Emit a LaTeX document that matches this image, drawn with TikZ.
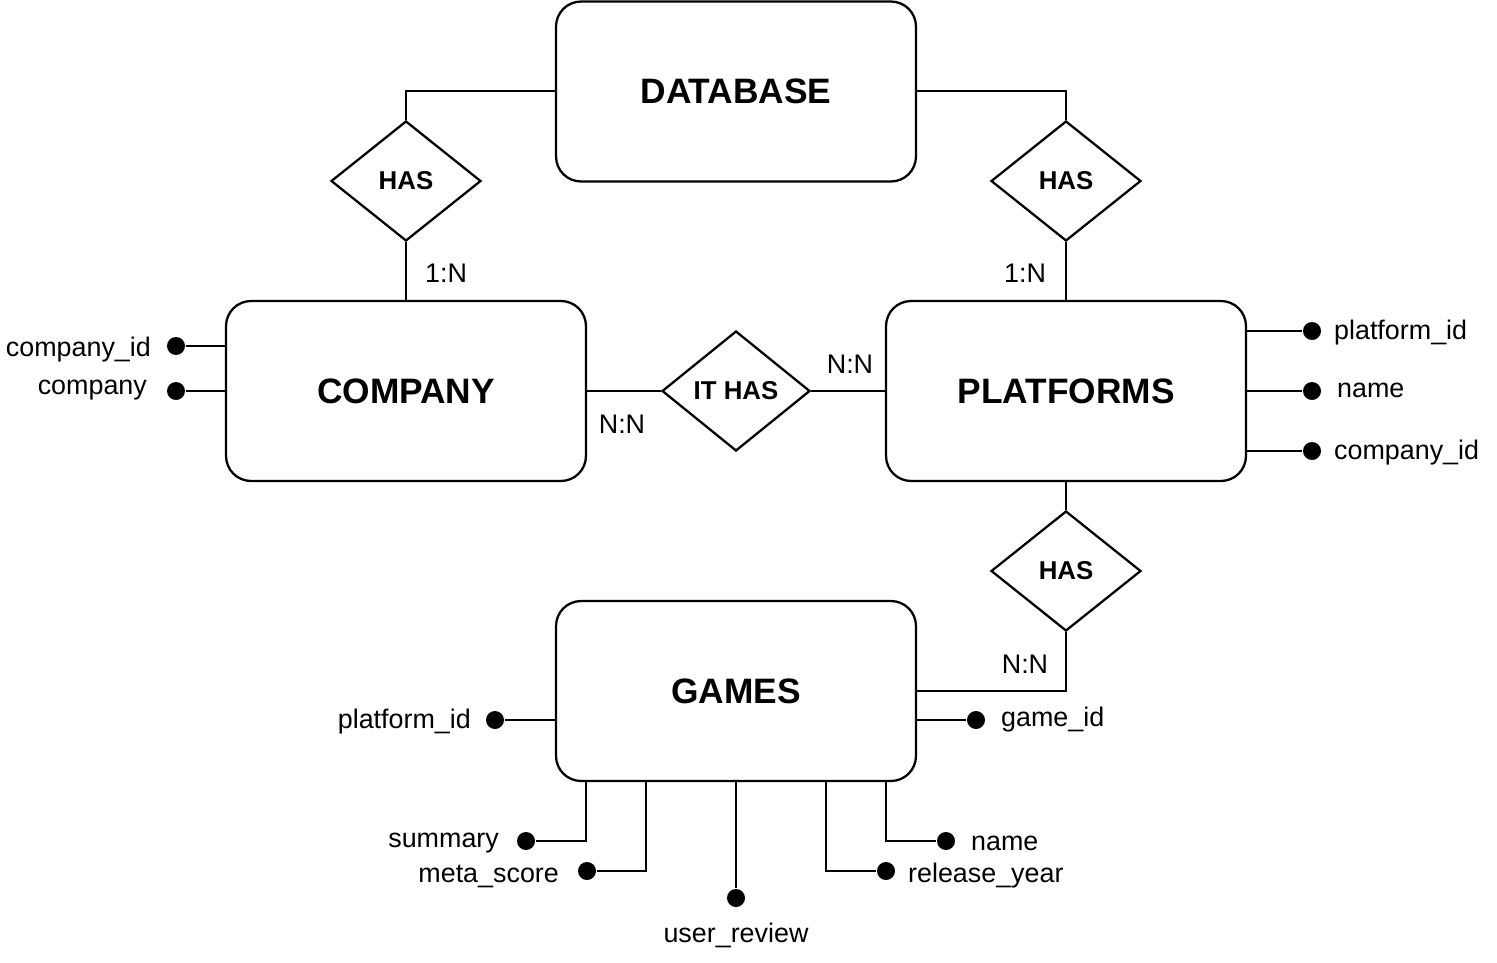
\documentclass[tikz,border=0pt]{standalone}
\usepackage{fontspec}
\setmainfont{Liberation Sans}
\usetikzlibrary{shapes.geometric}
\begin{document}
\begin{tikzpicture}[x=0.02cm,y=-0.02cm,
  line width=1.3pt,
  entity/.style={draw,rounded corners=0.5cm,minimum width=7.2cm,minimum height=3.6cm,inner sep=0pt,font=\fontsize{20.1}{22}\selectfont\bfseries},
  rel/.style={draw,diamond,minimum width=3cm,minimum height=2.4cm,inner sep=0pt,font=\fontsize{14.7}{17}\selectfont\bfseries},
  attr/.style={inner sep=0pt,font=\fontsize{15.3}{18}\selectfont},
  dot/.style={circle,fill=black,draw=none,minimum size=0.36cm,inner sep=0pt},
  card/.style={inner sep=0pt,font=\fontsize{15.3}{18}\selectfont}]
\useasboundingbox (0,0) rectangle (1497,963);
% entities
\node[entity] (db) at (736,91.5) {DATABASE};
\node[entity] (comp) at (406,391) {COMPANY};
\node[entity] (plat) at (1066,391) {PLATFORMS};
\node[entity] (games) at (736,691) {GAMES};
% relationships
\node[rel] (has1) at (406,181) {HAS};
\node[rel] (has2) at (1066,181) {HAS};
\node[rel,minimum width=2.96cm] (ithas) at (736,391) {IT HAS};
\node[rel] (has3) at (1066,571) {HAS};
% connectors
\draw (db.west |- 0,91) -| (has1.north);
\draw (has1.south) -- (comp.north);
\draw (db.east |- 0,91) -| (has2.north);
\draw (has2.south) -- (plat.north);
\draw (comp.east) -- (ithas.west);
\draw (ithas.east) -- (plat.west);
\draw (plat.south) -- (has3.north);
\draw (has3.south) |- (games.east |- 0,691);
% cardinalities
\node[card] (c1) at (446,273) {1:N};
\node[card] (c2) at (1025,273) {1:N};
\node[card] (c3) at (622,424) {N:N};
\node[card] (c4) at (850,364) {N:N};
\node[card] (c5) at (1025,664) {N:N};
% company attributes
\node[dot] (d1) at (176,346) {};
\node[dot] (d2) at (176,391) {};
\draw (comp.west |- d1) -- (d1);
\draw (comp.west |- d2) -- (d2);
\node[attr,anchor=east] (a1) at (152,350) {company\_id};
\node[attr,anchor=east] (a2) at (148,390) {company};
% platforms attributes
\node[dot] (d3) at (1312,331) {};
\node[dot] (d4) at (1312,391) {};
\node[dot] (d5) at (1312,451) {};
\draw (plat.east |- d3) -- (d3);
\draw (plat.east |- d4) -- (d4);
\draw (plat.east |- d5) -- (d5);
\node[attr,anchor=west] (a3) at (1333,333) {platform\_id};
\node[attr,anchor=west] (a4) at (1336,390) {name};
\node[attr,anchor=west] (a5) at (1333,453) {company\_id};
% games attributes
\node[dot] (d6) at (495,720) {};
\node[dot] (d7) at (976,720) {};
\draw (games.west |- d6) -- (d6);
\draw (games.east |- d7) -- (d7);
\node[attr,anchor=east] (a6) at (472,722) {platform\_id};
\node[attr,anchor=west] (a7) at (1000,720) {game\_id};
\node[dot] (d8) at (526,841) {};
\node[dot] (d9) at (587,871) {};
\node[dot] (d10) at (736,898) {};
\node[dot] (d11) at (886,871) {};
\node[dot] (d12) at (946,841) {};
\draw (games.south -| 586,0) |- (d8);
\draw (games.south -| 646,0) |- (d9);
\draw (games.south) -- (d10);
\draw (games.south -| 826,0) |- (d11);
\draw (games.south -| 886,0) |- (d12);
\node[attr,anchor=east] (a8) at (500,843) {summary};
\node[attr,anchor=east] (a9) at (560,876) {meta\_score};
\node[attr] (a10) at (736,935) {user\_review};
\node[attr,anchor=west] (a11) at (907,876) {release\_year};
\node[attr,anchor=west] (a12) at (970,843) {name};
\end{tikzpicture}
\end{document}
